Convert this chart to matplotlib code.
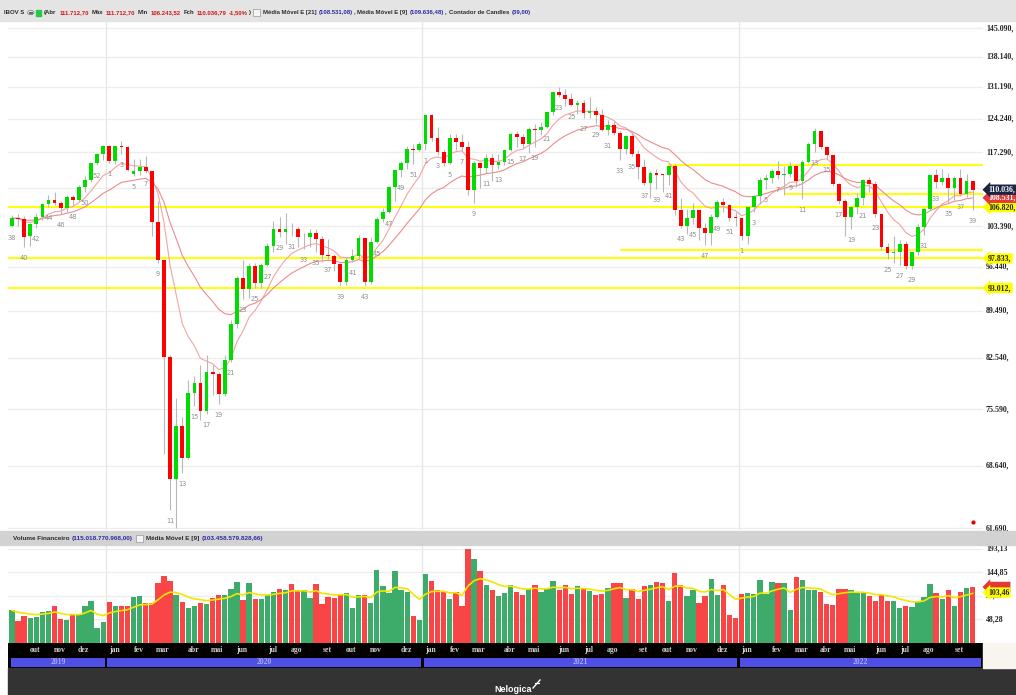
import matplotlib
matplotlib.use("Agg")
import matplotlib.pyplot as plt
import numpy as np
import pandas as pd
from matplotlib.patches import Rectangle, Circle
from matplotlib.transforms import blended_transform_factory

W, H = 1016, 695

# ---------------- data (weekly IBOV, thousands of points) ----------------
start_week = "2019-09-16"
counter_first = 38

opens = [103.5, 104.8, 104.7, 101.6, 103.8, 105.0, 107.4, 108.2, 107.6, 106.6, 108.7, 108.2, 110.6, 111.9, 115.1,
         117.0, 118.6, 115.5, 118.5, 118.4, 113.0, 113.6, 114.4, 113.7, 104.2, 97.6, 82.7, 67.1, 73.4, 69.5,
         77.7, 79.0, 75.3, 80.5, 80.3, 77.6, 82.2, 87.4, 94.6, 92.8, 96.6, 93.8, 96.8, 100.0, 102.9,
         102.4, 102.9, 102.8, 101.4, 101.5, 102.1, 101.1, 98.4, 98.3, 96.9, 94.0, 97.5, 98.3, 101.3, 94.0,
         100.6, 104.7, 106.0, 110.6, 113.8, 115.1, 118.0, 117.8, 119.0, 125.1, 120.3, 117.4, 115.1, 120.2, 119.4,
         118.4, 110.0, 115.2, 114.2, 116.2, 114.8, 115.3, 117.7, 121.1, 120.5, 118.9, 122.0, 121.9, 122.6, 125.6,
         130.1, 129.4, 128.4, 127.3, 127.6, 125.4, 125.9, 125.05, 121.8, 123.0, 121.2, 118.05, 120.7, 116.9, 114.3,
         111.4, 113.3, 112.9, 112.8, 114.6, 106.3, 103.5, 104.8, 106.3, 103.0, 102.2, 105.1, 107.8, 107.2, 104.9,
         104.8, 101.6, 106.9, 108.9, 111.9, 112.2, 113.6, 112.9, 113.1, 114.5, 111.7, 115.3, 119.05, 121.6, 118.3,
         116.8, 111.1, 107.9, 105.1, 106.9, 108.5, 111.9, 111.1, 105.5, 99.8, 98.7, 98.95, 100.3, 96.55, 98.9,
         103.2, 106.5, 112.8, 111.5, 112.3, 110.4, 112.3, 109.3, 111.7127]
highs = [105.3, 105.6, 105.2, 104.0, 105.7, 107.6, 109.0, 109.7, 108.0, 109.0, 109.1, 111.0, 112.6, 115.2, 117.2,
         118.8, 118.7, 118.6, 119.6, 118.6, 116.0, 116.0, 116.6, 113.7, 108.0, 97.6, 83.0, 77.0, 74.6, 79.5,
         80.0, 81.5, 83.0, 81.5, 80.6, 82.9, 88.0, 95.0, 97.6, 97.0, 97.0, 97.0, 100.4, 104.3, 105.0,
         105.7, 104.0, 103.3, 102.2, 102.8, 102.9, 101.6, 101.2, 98.5, 97.0, 98.0, 99.4, 101.9, 101.3, 101.5,
         105.1, 106.7, 110.7, 114.0, 115.5, 118.5, 119.0, 119.4, 125.3, 125.3, 122.5, 118.0, 121.0, 121.1, 121.0,
         119.5, 115.5, 115.3, 116.9, 116.9, 117.0, 118.0, 121.3, 121.6, 121.0, 122.4, 123.2, 123.6, 125.9, 130.2,
         131.2, 130.8, 129.8, 128.3, 128.2, 129.0, 126.7, 126.3, 124.0, 123.7, 121.6, 120.9, 121.4, 117.8, 116.0,
         113.6, 114.0, 113.0, 114.8, 114.9, 108.5, 106.4, 107.6, 106.5, 104.0, 105.6, 108.2, 108.5, 107.3, 105.9,
         105.0, 107.0, 109.0, 112.4, 113.0, 114.0, 115.6, 114.5, 115.3, 114.9, 115.7, 119.4, 122.2, 121.7, 118.5,
         116.8, 111.4, 108.3, 107.0, 109.4, 112.0, 112.4, 111.6, 105.5, 100.5, 101.6, 100.9, 100.8, 99.0, 103.7,
         106.6, 113.0, 114.0, 114.0, 113.3, 112.6, 114.1, 113.1, 111.7127]
lows = [103.2, 103.4, 99.8, 100.0, 103.0, 104.5, 106.8, 107.2, 105.5, 106.0, 107.0, 107.8, 109.6, 111.5, 114.8,
        115.7, 115.1, 115.0, 117.0, 113.6, 112.6, 112.9, 113.3, 101.7, 97.0, 70.0, 63.6, 61.7, 67.8, 69.4,
        76.0, 74.2, 75.0, 77.5, 76.3, 77.3, 82.0, 86.9, 91.2, 91.5, 93.0, 93.0, 96.6, 99.0, 101.5,
        100.3, 101.7, 99.8, 99.4, 99.8, 99.0, 97.3, 97.8, 95.7, 93.4, 93.5, 97.3, 97.8, 93.4, 93.6,
        100.5, 104.2, 105.8, 108.0, 112.5, 114.0, 115.0, 117.5, 117.8, 119.7, 116.8, 114.6, 115.0, 117.7, 117.5,
        109.0, 107.5, 110.3, 113.3, 111.6, 114.0, 114.8, 117.5, 118.3, 118.1, 117.2, 118.4, 120.9, 122.2, 125.0,
        128.9, 127.0, 126.9, 125.3, 124.5, 124.3, 123.2, 121.6, 120.8, 120.9, 115.7, 117.0, 116.6, 112.1, 110.9,
        108.5, 110.1, 109.7, 111.0, 105.4, 103.1, 102.0, 103.8, 100.9, 100.1, 100.1, 104.8, 106.0, 104.3, 103.5,
        100.9, 100.3, 105.9, 107.4, 110.2, 111.3, 112.0, 109.0, 112.4, 110.6, 108.3, 115.1, 117.4, 117.9, 115.9,
        110.8, 107.4, 101.7, 102.8, 105.6, 107.2, 109.6, 105.0, 99.2, 97.8, 97.0, 96.7, 96.1, 96.1, 98.4,
        101.8, 106.2, 110.4, 110.9, 107.6, 108.2, 108.8, 108.7, 106.2435]
closes = [104.8, 104.7, 101.5, 103.8, 105.0, 107.4, 108.2, 107.6, 106.6, 108.7, 108.2, 110.6, 111.9, 115.1, 117.0,
          118.6, 115.5, 118.5, 118.4, 113.8, 113.6, 114.4, 113.7, 104.2, 97.6, 82.7, 67.1, 73.4, 69.5, 77.7,
          79.0, 75.3, 80.5, 80.3, 77.6, 82.2, 87.4, 94.6, 92.8, 96.6, 93.8, 96.8, 100.0, 102.9, 102.4,
          102.9, 102.8, 101.4, 101.5, 102.1, 101.1, 98.4, 98.3, 96.9, 94.0, 97.5, 98.3, 101.3, 94.0, 100.6,
          104.7, 106.0, 110.6, 113.8, 115.1, 118.0, 117.8, 119.0, 125.1, 120.3, 117.4, 115.1, 120.2, 119.4, 118.4,
          110.0, 115.2, 114.2, 116.2, 114.8, 115.3, 117.7, 121.1, 120.5, 118.9, 122.0, 121.9, 122.6, 125.6, 130.1,
          129.4, 128.4, 127.3, 127.6, 125.4, 125.9, 125.05, 121.8, 123.0, 121.2, 118.05, 120.7, 116.9, 114.3, 111.4,
          113.3, 112.9, 112.8, 114.6, 106.3, 103.5, 104.8, 106.3, 103.0, 102.2, 105.1, 107.8, 107.2, 104.9, 104.8,
          101.6, 106.9, 108.9, 111.9, 112.2, 113.6, 112.9, 113.1, 114.5, 111.7, 115.3, 119.05, 121.6, 118.3, 116.8,
          111.1, 107.9, 105.1, 106.9, 108.5, 111.9, 111.1, 105.5, 99.8, 98.7, 98.95, 100.3, 96.55, 98.9, 103.2,
          106.5, 112.8, 111.5, 112.3, 110.4, 112.3, 109.3, 111.7, 110.0368]
volumes = [67, 46, 55, 51, 54, 64, 66, 75, 50, 48, 58, 58, 75, 87, 30,
           43, 84, 76, 75, 75, 94, 97, 82, 83, 124, 138, 128, 99, 85, 72,
           76, 82, 79, 93, 98, 98, 110, 125, 88, 123, 90, 90, 98, 105, 110,
           108, 122, 108, 108, 92, 121, 79, 95, 92, 99, 102, 72, 98, 98, 83,
           150, 117, 102, 147, 108, 105, 55, 48, 142, 127, 109, 105, 90, 105, 76,
           193.13, 172, 148, 120, 109, 97, 102, 118, 104, 98, 110, 120, 105, 112, 128,
           108, 118, 100, 116, 110, 106, 98, 101, 113, 124, 124, 92, 110, 90, 117,
           120, 125, 124, 86, 144, 119, 97, 109, 83, 97, 131, 98, 119, 58, 52,
           101, 103, 100, 130, 101, 126, 124, 124, 67, 135, 130, 109, 109, 104, 79,
           78, 110, 111, 109, 103, 103, 97, 87, 98, 87, 87, 72, 76, 73, 84,
           94, 122, 102, 91, 109, 75, 104, 112, 115.02]

price_ticks = [61.690, 68.640, 75.590, 82.540, 89.490, 96.440, 103.390,
               117.290, 124.240, 131.190, 138.140, 145.090]
volume_ticks = [48.28, 96.57, 144.85, 193.13]
support_levels = [106.820, 97.833, 93.012]
partial_levels = [114.8, 109.3, 99.25]
partial_starts = [107.9, 127.1, 100.0]
marker_value = [62.3]
ema21_last = 108.53108      # value printed by the platform
vol_ema_last = 103.46
ema_fast, ema_slow, ema_vol = 9, 21, 9
month_names = ['jan', 'fev', 'mar', 'abr', 'mai', 'jun', 'jul', 'ago', 'set', 'out', 'nov', 'dez']

# ---------------- derived ----------------
n = len(closes)
idx = np.arange(n)
o = np.array(opens); h = np.array(highs); l = np.array(lows); c = np.array(closes)
up = c >= o
mondays = pd.date_range(start_week, periods=n, freq='W-MON')
ema9 = pd.Series(c).ewm(span=ema_fast, adjust=False).mean()
ema21 = pd.Series(c).ewm(span=ema_slow, adjust=False).mean()
vema = pd.Series(volumes).ewm(span=ema_vol, adjust=False).mean()

# ---------------- figure ----------------
fig = plt.figure(figsize=(W / 100, H / 100), dpi=100)
fig.patch.set_facecolor('white')

def fx(px): return px / W
def fy(py): return 1 - py / H

X0, X1 = 8, 983
STEP, XFIRST = 6.08, 12
xlim = ((X0 - XFIRST) / STEP, (X1 - XFIRST) / STEP)

fig.patches.append(Rectangle((0, fy(21)), 1, 21 / H, transform=fig.transFigure, color='#e4e4e4', zorder=0))
fig.patches.append(Rectangle((0, fy(545)), 1, 14 / H, transform=fig.transFigure, color='#d2d2d2', zorder=0))
fig.patches.append(Rectangle((fx(X0), 0), 1, 27 / H, transform=fig.transFigure, color='#333333', zorder=0))
fig.patches.append(Rectangle((fx(X1), fy(668)), 1, 25 / H, transform=fig.transFigure, color='#f8f5ef', zorder=0))

ax = fig.add_axes([fx(X0), fy(530), (X1 - X0) / W, (530 - 22) / H])
axv = fig.add_axes([fx(X0), fy(643), (X1 - X0) / W, (643 - 546) / H])
axt = fig.add_axes([fx(X0), fy(668), (X1 - X0) / W, (668 - 643) / H])

year_bounds = [i - 0.5 for i in range(1, n) if mondays[i].year != mondays[i - 1].year]

# ---------------- price panel ----------------
ax.set_yscale('log')
ax.set_xlim(*xlim)
ax.set_ylim(61.48, 146.6)
for s in ax.spines.values():
    s.set_visible(False)
ax.set_xticks([]); ax.set_yticks([])
ax.yaxis.set_minor_locator(matplotlib.ticker.NullLocator())
ax.patch.set_alpha(0)
for t in price_ticks + [110.340]:
    ax.axhline(t, color='#ededed', lw=0.9, zorder=0)
for b in year_bounds:
    ax.axvline(b, color='#e6e6e6', lw=0.9, zorder=0)
    axv.axvline(b, color='#e6e6e6', lw=0.9, zorder=0)

for lv in support_levels:
    ax.axhline(lv, color='#ffff00', lw=1.4, zorder=1)
for lv, st in zip(partial_levels, partial_starts):
    ax.hlines(lv, st, xlim[1], color='#ffff00', lw=1.4, zorder=1)

ax.plot(idx, ema9, color='#f5a3a3', lw=0.8, zorder=2)
ax.plot(idx, ema21, color='#ec8c8c', lw=0.8, zorder=2)

ax.vlines(idx, l, h, color='#b8b8b8', lw=0.8, zorder=3)
body_lo = np.minimum(o, c)
body_h = np.maximum(np.abs(c - o), c * 0.0016)
cols = np.where(up, '#00dc00', '#ff0000')
ax.bar(idx, body_h, bottom=body_lo, width=0.62, color=cols, lw=0, zorder=4)

counter = []
cnt = counter_first - 1
for i in range(n):
    if i > 0 and mondays[i].year != mondays[i - 1].year:
        cnt = 0
    cnt += 1
    counter.append(cnt)
for i in range(0, n, 2):
    ax.annotate(str(counter[i]), (i, l[i]), xytext=(0, -11), textcoords='offset pixels',
                ha='center', va='center', fontsize=4.8, color='#8e8e8e', zorder=5)

ax.plot([n - 1], marker_value, 'o', color='#e00000', ms=2, zorder=5)

bt = blended_transform_factory(ax.transAxes, ax.transData)
XL = (986 - X0) / (X1 - X0)
def fmt_price(v):
    return f"{int(np.floor(v * 1000 + 1e-6)):,d}".replace(',', '.') + ','
for t in price_ticks:
    ax.text(XL, t, fmt_price(t), transform=bt, ha='left', va='center', fontsize=5.7,
            family='Liberation Serif', weight='bold', color='#222222', clip_on=False)

def tag(axis, trans, y, s, fc, tc):
    axis.text((988 - X0) / (X1 - X0), y, s, transform=trans, ha='left', va='center', fontsize=5.7,
              family='Liberation Serif', weight='bold', color=tc, clip_on=False, zorder=10,
              bbox=dict(boxstyle='larrow,pad=0.15', fc=fc, ec='none'))

for lv in support_levels:
    tag(ax, bt, lv, fmt_price(lv), '#ffff00', '#222222')
tag(ax, bt, ema21_last, fmt_price(ema21_last), '#e23a36', 'white')
tag(ax, bt, c[-1], fmt_price(c[-1]), '#1b2440', 'white')

# ---------------- volume panel ----------------
axv.set_xlim(*xlim)
axv.set_ylim(0, 199)
for s in axv.spines.values():
    s.set_visible(False)
axv.set_xticks([]); axv.set_yticks([])
axv.patch.set_alpha(0)
for t in volume_ticks:
    axv.axhline(t, color='#ededed', lw=0.9, zorder=0)
vcols = np.where(up, '#3dab6a', '#f94545')
axv.bar(idx, volumes, width=0.88, color=vcols, lw=0, zorder=2)
axv.plot(idx, vema, color='#f2e600', lw=1.2, zorder=3)
btv = blended_transform_factory(axv.transAxes, axv.transData)
for t in volume_ticks:
    axv.text(XL, t, f"{t:.2f}".replace('.', ','), transform=btv, ha='left', va='center', fontsize=5.7,
             family='Liberation Serif', weight='bold', color='#222222', clip_on=False)
tag(axv, btv, volumes[-1], f"{volumes[-1]:.2f}".replace('.', ','), '#e23a36', '#e23a36')
tag(axv, btv, vol_ema_last, f"{vol_ema_last:.2f}".replace('.', ','), '#ffff00', '#222222')

# ---------------- time axis ----------------
axt.set_xlim(*xlim)
axt.set_ylim(25, 0)
axt.set_facecolor('black')
for s in axt.spines.values():
    s.set_visible(False)
axt.set_xticks([]); axt.set_yticks([])
for i in range(1, n):
    if mondays[i].month != mondays[i - 1].month:
        axt.text(i + 0.8, 7, month_names[mondays[i].month - 1], ha='center', va='center', fontsize=5.6,
                 family='Liberation Serif', weight='bold', color='#cfcfcf')
edges = [-0.35] + year_bounds + [n + 0.5]
years = [mondays[0].year] + [mondays[int(b + 0.5)].year for b in year_bounds]
for k, yr in enumerate(years):
    a, b = edges[k] + 0.2, edges[k + 1] - 0.2
    axt.add_patch(Rectangle((a, 14.5), b - a, 9.5, color='#4f4fe6', lw=0))
    axt.text((a + b) / 2, 19.3, str(yr), ha='center', va='center', fontsize=5.6,
             family='Liberation Serif', weight='bold', color='#a9a9ee')

# ---------------- header texts ----------------
renderer = fig.canvas.get_renderer()

def draw_seq(pieces, x0, yc, x_end, family='Liberation Sans', weight='bold'):
    tot, gaps = 0.0, 0.0
    for p in pieces:
        if p[0] in ('GAP', 'CIRC', 'DOT', 'BOX'):
            gaps += p[1]
            continue
        t = fig.text(0, 0, p[0], fontsize=10, family=family, weight=weight)
        tot += t.get_window_extent(renderer).width
        t.remove()
    size = 10 * (x_end - x0 - gaps) / tot
    x = x0
    for p in pieces:
        if p[0] == 'GAP':
            x += p[1]; continue
        if p[0] == 'CIRC':
            fig.patches.append(Circle((fx(x + 3.5), fy(yc)), 3.2 / W, transform=fig.transFigure,
                                      fc='white', ec='#888888', lw=0.6))
            fig.patches.append(Rectangle((fx(x + 1.8), fy(yc + 0.4)), 3.4 / W, 0.8 / H,
                                         transform=fig.transFigure, color='#666666'))
            x += p[1]; continue
        if p[0] == 'DOT':
            fig.patches.append(Rectangle((fx(x), fy(yc + 3)), 5 / W, 6 / H, transform=fig.transFigure,
                                         color='#22cc44'))
            x += p[1]; continue
        if p[0] == 'BOX':
            fig.patches.append(Rectangle((fx(x), fy(yc + 3.5)), 7 / W, 7 / H, transform=fig.transFigure,
                                         fc='#f4f4f4', ec='#999999', lw=0.5))
            x += p[1]; continue
        t = fig.text(fx(x), fy(yc), p[0], fontsize=size, color=p[1], family=family, weight=weight,
                     ha='left', va='center')
        x += t.get_window_extent(renderer).width

DK, RD, BL = '#2b2b2b', '#d41515', '#2a2aa5'
header = [('IBOV S', DK), ('GAP', 3), ('CIRC', 9), ('DOT', 8), ('(Abr', DK), ('GAP', 2.6),
          ('111.712,70', RD), ('GAP', 2.6), ('Máx', DK), ('GAP', 2.6), ('111.712,70', RD), ('GAP', 2.6),
          ('Min', DK), ('GAP', 2.6), ('106.243,52', RD), ('GAP', 2.6), ('Fch', DK), ('GAP', 2.6),
          ('110.036,79', RD), ('GAP', 2.6), ('-1,50%', RD), (')', DK), ('GAP', 3), ('BOX', 10),
          ('Média Móvel E [21]', DK), ('GAP', 2.6), ('(108.531,08)', BL), (',', DK), ('GAP', 2.6),
          ('Média Móvel E [9]', DK), ('GAP', 2.6), ('(109.636,48)', BL), (',', DK), ('GAP', 2.6),
          ('Contador de Candles', DK), ('GAP', 2.6), ('(39,00)', BL)]
draw_seq(header, 4, 12.5, 528)

vheader = [('Volume Financeiro', DK), ('GAP', 2.6), ('(115.018.770.968,00)', BL), ('GAP', 3), ('BOX', 10),
           ('Média Móvel E [9]', DK), ('GAP', 2.6), ('(103.458.579.828,66)', BL)]
draw_seq(vheader, 13, 538.5, 262)

fig.text(fx(513), fy(689), 'Nelogica', fontsize=6.5, weight='bold', color='white',
         ha='center', va='center', family='Liberation Sans')
fig.lines.append(plt.Line2D([fx(533), fx(540)], [fy(688), fy(680)], transform=fig.transFigure,
                            color='white', lw=1.0))
fig.lines.append(plt.Line2D([fx(535), fx(539)], [fy(683), fy(683)], transform=fig.transFigure,
                            color='white', lw=0.8))

fig.savefig('out.png', dpi=100)
